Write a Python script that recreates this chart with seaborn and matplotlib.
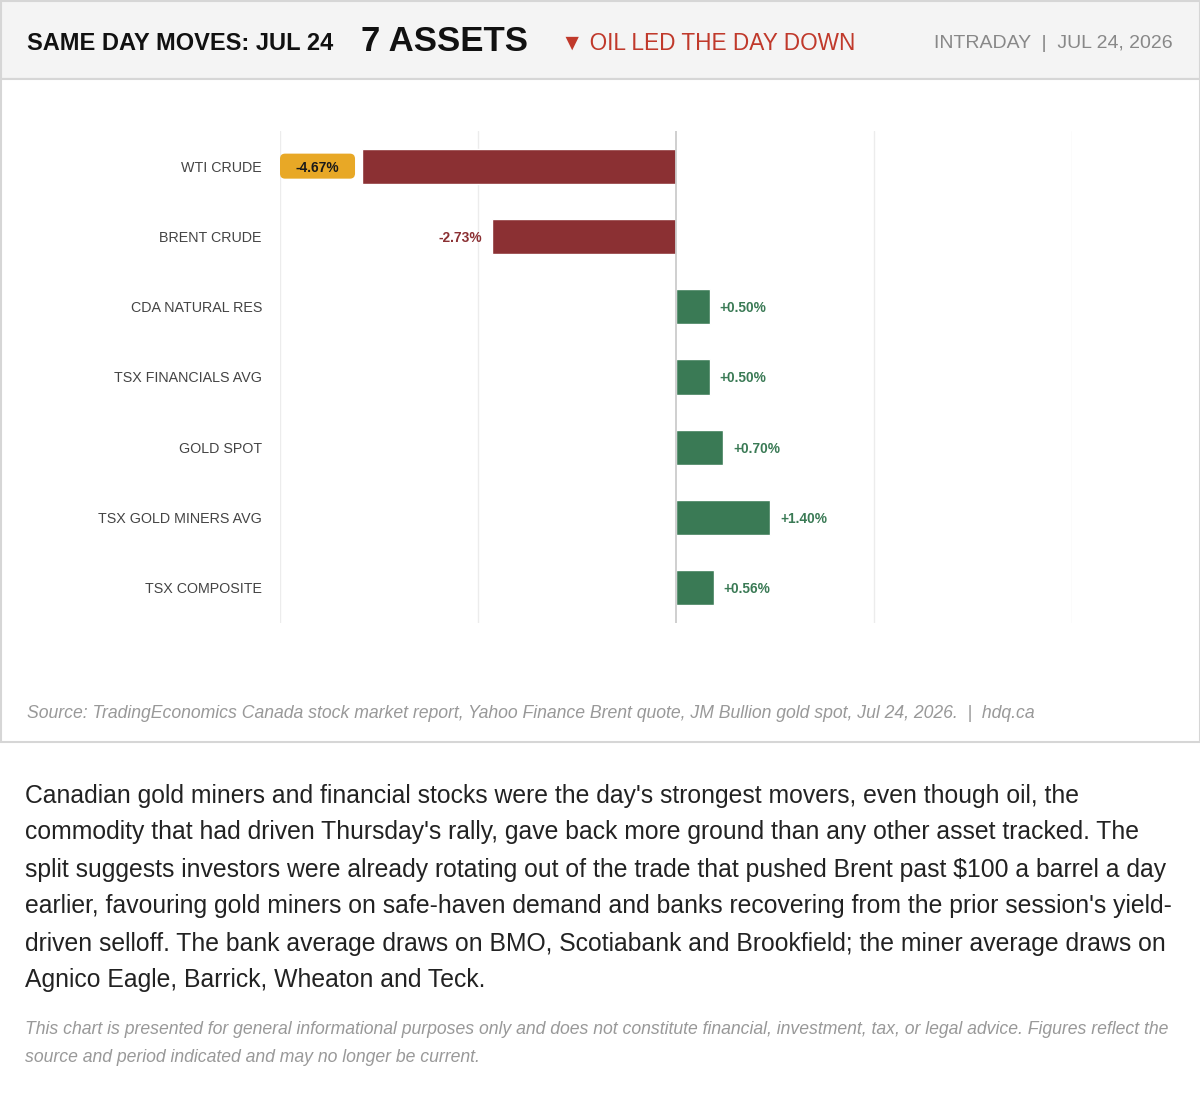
import matplotlib
matplotlib.use("Agg")
import matplotlib.pyplot as plt
from matplotlib.patches import Rectangle, FancyBboxPatch
import seaborn as sns
import pandas as pd

# data
assets = ["WTI CRUDE", "BRENT CRUDE", "CDA NATURAL RES", "TSX FINANCIALS AVG",
          "GOLD SPOT", "TSX GOLD MINERS AVG", "TSX COMPOSITE"]
changes = [-4.67, -2.73, 0.50, 0.50, 0.70, 1.40, 0.56]

df = pd.DataFrame({"asset": assets, "change": changes})
df["direction"] = ["down" if v < 0 else "up" for v in df["change"]]

RED = "#8B3033"
GREEN = "#3A7A55"
GOLD = "#E8A826"

sns.set_style("white")
plt.rcParams["font.family"] = ["Liberation Sans", "DejaVu Sans"]

fig = plt.figure(figsize=(12, 11.05), dpi=100)

# background layer in pixel coordinates
bg = fig.add_axes([0, 0, 1, 1], zorder=0)
bg.set_xlim(0, 1200)
bg.set_ylim(1105, 0)
bg.axis("off")

# header band and chart card
bg.add_patch(Rectangle((0.5, 0.5), 1199, 78, facecolor="#f4f4f4", edgecolor="#d6d6d6", lw=1.5))
bg.add_patch(Rectangle((0.5, 78.5), 1199, 663, facecolor="white", edgecolor="#d6d6d6", lw=1.5))

bg.text(27, 41, "SAME DAY MOVES: JUL 24", fontsize=17, fontweight="bold", color="#111",
        va="center_baseline")
bg.text(361, 38, "7 ASSETS", fontsize=25, fontweight="bold", color="#111", va="center_baseline")
bg.text(561, 41, "\u25BC OIL LED THE DAY DOWN", fontsize=16.3, color="#C0392B", va="center_baseline")
bg.text(1173, 42, "INTRADAY  |  JUL 24, 2026", fontsize=14, color="#888888",
        va="center_baseline", ha="right")

bg.text(27, 712, "Source: TradingEconomics Canada stock market report, Yahoo Finance Brent quote, "
        "JM Bullion gold spot, Jul 24, 2026.  |  hdq.ca",
        fontsize=12.7, style="italic", color="#999999", va="center_baseline")

para = [
    "Canadian gold miners and financial stocks were the day's strongest movers, even though oil, the",
    "commodity that had driven Thursday's rally, gave back more ground than any other asset tracked. The",
    "split suggests investors were already rotating out of the trade that pushed Brent past $100 a barrel a day",
    "earlier, favouring gold miners on safe-haven demand and banks recovering from the prior session's yield-",
    "driven selloff. The bank average draws on BMO, Scotiabank and Brookfield; the miner average draws on",
    "Agnico Eagle, Barrick, Wheaton and Teck.",
]
for i, line in enumerate(para):
    bg.text(25, 793 + i * 37, line, fontsize=17.85, color="#222222", va="center_baseline")

disc = [
    "This chart is presented for general informational purposes only and does not constitute financial, "
    "investment, tax, or legal advice. Figures reflect the",
    "source and period indicated and may no longer be current.",
]
for i, line in enumerate(disc):
    bg.text(25, 1028 + i * 27, line, fontsize=12.7, style="italic", color="#999999",
            va="center_baseline")

# bar chart
ax = fig.add_axes([280 / 1200, 1 - 623 / 1105, 792 / 1200, 492 / 1105], zorder=1)
ax.patch.set_alpha(0)
sns.barplot(data=df, x="change", y="asset", hue="direction",
            palette={"down": RED, "up": GREEN}, dodge=False, width=0.5,
            saturation=1, legend=False, ax=ax)

xmax = 5.89
ax.set_xlim(-xmax, xmax)
ax.set_ylim(6.5, -0.5)
for gx in [-xmax, -xmax / 2, xmax / 2, xmax]:
    ax.axvline(gx, color="#ececec", lw=1, zorder=0)
ax.axvline(0, color="#cccccc", lw=1.3, zorder=3)

for s in ax.spines.values():
    s.set_visible(False)
ax.set_xticks([])
ax.set_xlabel("")
ax.set_ylabel("")
ax.tick_params(axis="y", length=0, pad=13, labelsize=10.25, labelcolor="#444444")

# value labels; the largest mover gets a gold tag
big = max(range(len(changes)), key=lambda i: abs(changes[i]))
px = 792 / (2 * xmax)  # pixels per unit
for i, v in enumerate(changes):
    txt = f"{v:+.2f}%"
    if i == big:
        right = v - 7 / px
        box = FancyBboxPatch((-xmax, i - 0.178), right + xmax, 0.356,
                             boxstyle="round,pad=0,rounding_size=0.075",
                             facecolor=GOLD, edgecolor="none", zorder=4, clip_on=False)
        ax.add_patch(box)
        ax.text((-xmax + right) / 2, i, txt, ha="center", va="center_baseline",
                fontsize=9.9, fontweight="bold", color="#1a1a1a", zorder=5)
    elif v < 0:
        ax.text(v - 10 / px, i, txt, ha="right", va="center_baseline",
                fontsize=9.9, fontweight="bold", color=RED)
    else:
        ax.text(v + 10 / px, i, txt, ha="left", va="center_baseline",
                fontsize=9.9, fontweight="bold", color=GREEN)

fig.savefig("out.png", dpi=100)
